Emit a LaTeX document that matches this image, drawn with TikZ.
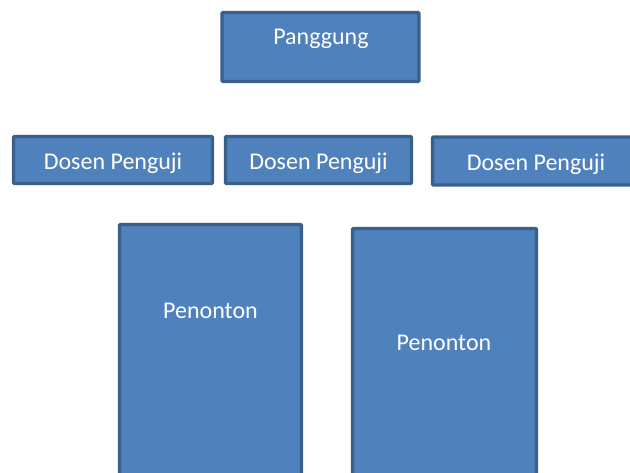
\documentclass[tikz,border=0pt]{standalone}
\usepackage{fontspec}
\setmainfont{Carlito}
\definecolor{boxfill}{HTML}{4F81BD}
\definecolor{boxline}{HTML}{3A5F8B}
\tikzset{
  area/.style = {draw = boxline, fill = boxfill, line width = 3.2pt, rounded corners = 1pt, inner sep = 0pt},
  tag/.style = {text = white, anchor = base, inner sep = 0pt, font = \fontsize{24}{28}\selectfont}
}

\begin{document}
\begin{tikzpicture}[x = 1pt, y = -1pt]
\useasboundingbox (0,0) rectangle (630,472);
\clip (0,0) rectangle (630,472);
% stage
\path (320.5,47) node[area, minimum width = 197pt, minimum height = 69pt] (panggung) {};
\path (321,44) node[tag] (panggungtxt) {Panggung};
% examiners
\path (113,160) node[area, minimum width = 199pt, minimum height = 47pt] (dosenA) {};
\path (318.5,160) node[area, minimum width = 186pt, minimum height = 47pt] (dosenB) {};
\path (536,161) node[area, minimum width = 207pt, minimum height = 48pt] (dosenC) {};
\path (113,169) node[tag] (dosenAtxt) {Dosen Penguji};
\path (318.5,169) node[tag] (dosenBtxt) {Dosen Penguji};
\path (536,170) node[tag] (dosenCtxt) {Dosen Penguji};
% audience
\path (210.5,357) node[area, minimum width = 182pt, minimum height = 265pt] (penontonA) {};
\path (444.5,359) node[area, minimum width = 184pt, minimum height = 261pt] (penontonB) {};
\path (210.5,318) node[tag] (penontonAtxt) {Penonton};
\path (444,350) node[tag] (penontonBtxt) {Penonton};
\end{tikzpicture}
\end{document}
